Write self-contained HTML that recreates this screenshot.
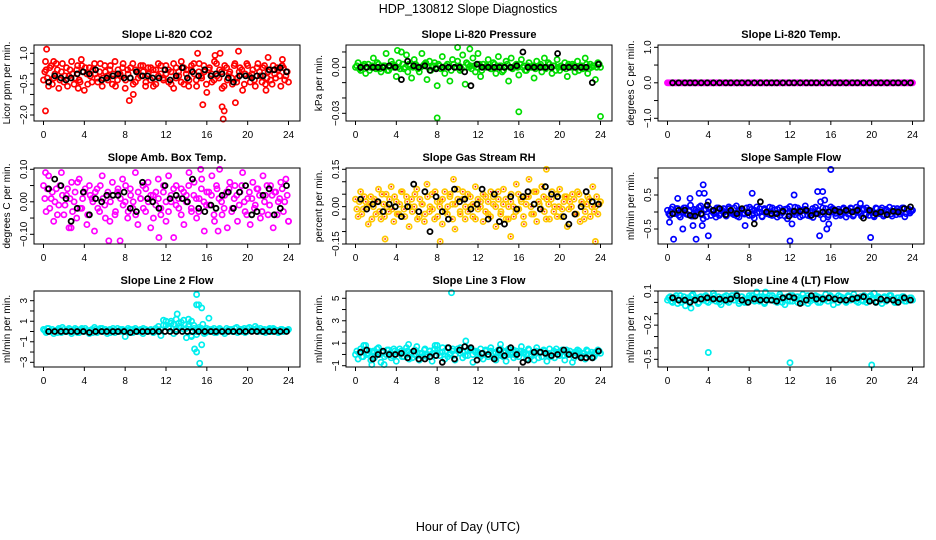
<!DOCTYPE html>
<html><head><meta charset="utf-8"><style>
html,body{margin:0;padding:0;background:#fff}
svg{display:block;font-family:"Liberation Sans",Arial,sans-serif}
</style></head><body>
<svg id="chart" width="936" height="540" viewBox="0 0 936 540" xmlns="http://www.w3.org/2000/svg">
<rect width="936" height="540" fill="#fff"/>
<text x="468" y="13" font-size="12.5" text-anchor="middle">HDP_130812  Slope Diagnostics</text>
<text x="468" y="531" font-size="12.5" text-anchor="middle">Hour of Day (UTC)</text>
</svg>
<script>
const xTicks=[0,4,8,12,16,20,24];
const blackX=[0.5,1.1,1.7,2.2,2.7,3.3,3.9,4.5,5.1,5.7,6.2,6.8,7.3,7.9,8.5,9.1,9.7,10.2,10.7,11.3,11.9,12.4,13.0,13.6,14.1,14.6,15.2,15.8,16.4,16.9,17.5,18.1,18.6,19.2,19.8,20.4,20.9,21.5,22.1,22.6,23.2,23.8];

const co2Vals=[-0.3,0.2,-0.6,0.4,-0.2,0.5,-0.7,0.1,-0.4,0.3,-0.1,0.6,-0.5,0.2,-0.3,0.4,-0.8,0.0,0.3,-0.4,0.5,-0.2,0.1,-0.6,0.4,-0.1,0.2,-0.5,0.6,-0.3,0.0,0.3,-0.7,0.2,-0.2,0.5,-0.4,0.1,-0.1,0.4,-0.6,0.3,-0.3,0.2,-0.5,0.5,0.0,-0.2,0.4,-0.4,0.1,-0.7,0.3,-0.1,0.6,-0.5,0.2,-0.3,0.4,0.0,-0.6,0.5,-0.2,0.1,-0.9,0.3,-0.4,0.6,-0.1,0.2,-0.7,0.4,-0.3,0.1,-0.5,0.5,-0.2,0.3,-0.8,0.0,0.4,-0.4,0.2,-0.6,0.5,-0.1,0.3,-0.5,0.1,-0.3,0.4,-0.2,0.2,-0.6,0.3,-0.1,-0.4];
const co2Vals2=[0.1,-0.2,0.3,-0.5,0.0,0.2,-0.3,0.5,-0.1,-0.6,0.2,0.0,-0.2,0.4,-0.4,0.1,0.3,-0.5,-0.1,0.2,0.0,-0.4,0.5,-0.2,0.1,-0.3,0.4,0.0,-0.6,0.2,-0.1,0.5,-0.3,0.0,0.3,-0.5,0.2,-0.2,0.4,0.1,-0.4,0.0,0.3,-0.6,0.2,-0.1,0.4,-0.3,0.0,0.2,-0.5,0.5,-0.2,0.1,-0.4,0.3,0.0,-0.6,0.2,0.5,-0.3,0.1,-0.1,0.4,-0.5,0.2,0.0,-0.3,0.5,-0.2,0.1,-0.6,0.3,0.0,-0.2,0.4,-0.4,0.1,0.2,-0.5,0.5,-0.1,0.0,-0.3,0.3,0.1,-0.4,0.4,-0.2,0.2,-0.5,0.0,0.3,-0.1,0.4,-0.3,0.1];
const co2Out=[[0.3,1.2],[0.2,-1.8],[0.2,0.6],[1.0,0.6],[3.7,0.7],[3.4,-0.7],[8.4,-1.3],[8.8,-1.0],[15.1,1.0],[15.6,-1.5],[17.3,1.0],[17.6,-2.2],[17.5,-1.6],[17.7,-1.8],[19.1,1.1],[18.8,-1.4],[22.0,0.8],[21.8,-0.8],[16.8,0.9],[23.4,0.7]];
const co2Black=[-0.4,-0.1,-0.2,-0.3,-0.2,0.0,0.1,0.0,0.2,-0.3,-0.2,-0.1,0.0,-0.2,-0.2,0.1,-0.1,-0.1,-0.2,-0.2,0.2,-0.3,-0.1,0.3,-0.2,0.1,-0.1,0.2,-0.1,0.0,0.0,-0.2,-0.4,-0.1,-0.1,-0.2,-0.1,-0.1,0.2,0.2,0.3,0.1];

const presVals=[0,0.003,-0.002,0.001,-0.004,0.002,0,0.006,-0.001,0.002,-0.003,0.001,0.009,-0.002,0.004,0,-0.006,0.003,0.010,-0.001,0.008,0.002,-0.007,0.005,0.001,-0.003,0.009,0.002,-0.008,0.004,0,0.003,-0.012,0.001,0.007,-0.004,0.002,-0.009,0.005,0,0.004,-0.002,0.008,-0.011,0.002,0.001,0.006,-0.003,0.009,-0.006,0.002,0,0.005,-0.001,0.003,-0.004,0.007,0.001,-0.002,0.004,-0.009,0.006,0,0.002,-0.005,0.005,0.001,-0.002,0.003,0,-0.007,0.004,0.001,-0.003,0.006,0,0.002,-0.004,0.001,0.005,-0.002,0,0.003,-0.006,0.001,0.002,-0.003,0.004,0,-0.001,0.006,-0.004,0.002,0.001,-0.008,0.003,0];
const presVals2=[0.001,-0.001,0,0.002,0,-0.002,0.001,0,0.003,-0.001,0,0.001,-0.002,0,0.002,0.001,0,-0.001,0.002,0,-0.003,0.001,0,0.002,-0.001,0,0.001,0.003,0,-0.002,0.001,0,0.002,-0.001,0,0.001,0,-0.002,0.002,0,0.001,-0.001,0,0.003,0,-0.001,0.001,0,0.002,-0.002,0,0.001,0,-0.001,0.002,0,0.001,-0.003,0,0.002,0,-0.001,0.001,0,0.002,0,-0.002,0.001,0,0.001,-0.001,0,0.002,0,-0.001,0.003,0,0.001,-0.002,0,0.001,0,-0.001,0.002,0,0.001,0,-0.002,0.001,0,0.002,-0.001,0,0.001,0,0.002];
const presOut=[[8.0,-0.033],[16.0,-0.029],[24.0,-0.032],[4.1,0.011],[11.2,0.012],[10.0,0.013]];
const presBlack=[0,0,0,0,0,0.001,0,-0.008,0.004,0.001,0,0.001,-0.002,-0.001,0,0,0,0,-0.003,-0.012,0.002,0,0,0,0,0,0,0.001,0.010,0,0,0,0,0,0.009,0,0,0,0,0,-0.010,0.002];

const tempVals=[0,0,0,0,0,0,0,0,0,0,0,0,0,0,0,0,0,0,0,0,0,0,0,0,0,0,0,0,0,0,0,0,0,0,0,0,0,0,0,0,0,0,0,0,0,0,0,0,0,0,0,0,0,0,0,0,0,0,0,0,0,0,0,0,0,0,0,0,0,0,0,0,0,0,0,0,0,0,0,0,0,0,0,0,0,0,0,0,0,0,0,0,0,0,0,0,0];
const tempVals2=tempVals;
const tempOut=[];
const tempBlack=[0,0,0,0,0,0,0,0,0,0,0,0,0,0,0,0,0,0,0,0,0,0,0,0,0,0,0,0,0,0,0,0,0,0,0,0,0,0,0,0,0,0];

const ambVals=[0.05,-0.03,0.08,0.01,-0.06,0.04,-0.01,0.09,-0.04,0.02,-0.08,0.06,0.00,-0.05,0.07,-0.02,0.03,-0.07,0.05,0.01,-0.09,0.04,-0.03,0.08,-0.01,0.02,-0.06,0.06,-0.04,0.03,-0.12,0.07,0.00,-0.05,0.04,-0.02,0.09,-0.07,0.01,0.05,-0.03,0.06,-0.08,0.02,-0.01,0.07,-0.04,0.03,-0.06,0.08,0.00,-0.11,0.05,-0.02,0.04,-0.07,0.02,0.09,-0.03,0.06,-0.05,0.01,0.07,-0.09,0.03,-0.01,0.08,-0.06,0.04,0.10,-0.04,0.02,-0.08,0.06,-0.02,0.05,-0.06,0.03,0.09,-0.03,0.01,-0.07,0.06,-0.01,0.04,-0.05,0.08,0.02,-0.04,0.05,-0.08,0.03,0.00,0.06,-0.03,0.07,-0.06];
const ambVals2=[0.01,0.04,-0.02,0.03,0.00,-0.04,0.05,0.02,-0.01,0.04,0.01,-0.03,0.03,0.06,-0.02,0.01,0.04,-0.04,0.02,0.00,0.03,-0.02,0.05,0.01,-0.05,0.03,0.00,0.02,-0.03,0.04,0.01,-0.01,0.05,-0.03,0.02,0.00,-0.04,0.03,0.01,-0.02,0.04,0.00,0.02,-0.05,0.03,0.01,-0.02,0.05,0.00,-0.03,0.02,0.04,-0.01,0.01,-0.04,0.03,0.00,0.05,-0.02,0.02,0.01,-0.03,0.04,0.00,-0.01,0.03,0.02,-0.04,0.05,0.01,0.00,-0.02,0.03,0.04,-0.03,0.01,0.02,-0.01,0.05,0.00,-0.04,0.03,0.01,-0.02,0.04,0.02,-0.03,0.00,0.05,-0.01,0.02,0.03,-0.04,0.01,0.04,0.00,0.02];
const ambOut=[[6.4,-0.12],[2.7,-0.08],[11.3,-0.11],[17.1,-0.09],[15.4,0.10],[0.2,0.09],[24.0,-0.06]];
const ambBlack=[0.04,0.07,0.05,0.01,-0.06,-0.02,0.03,-0.04,0.01,0.00,0.02,0.02,0.02,0.03,-0.02,-0.03,0.06,0.01,0.00,-0.02,0.05,0.01,0.02,0.01,0.00,0.07,-0.02,-0.03,-0.01,-0.02,0.02,0.03,-0.02,0.03,0.05,-0.04,-0.03,0.02,0.04,-0.04,-0.02,0.05];

const rhVals=[0.03,-0.04,0.06,-0.01,0.02,-0.07,0.04,0.00,-0.03,0.07,-0.05,0.01,0.05,-0.02,0.08,-0.06,0.02,-0.03,0.06,-0.01,0.04,-0.08,0.03,0.00,0.07,-0.04,0.01,-0.06,0.09,-0.02,0.05,-0.05,0.02,0.00,-0.07,0.06,-0.03,0.04,0.01,-0.09,0.07,-0.02,0.03,-0.05,0.05,0.00,-0.04,0.08,-0.01,0.02,-0.06,0.04,-0.03,0.06,0.01,-0.08,0.03,-0.02,0.07,-0.05,0.00,0.05,-0.04,0.09,-0.01,0.02,-0.07,0.04,0.11,-0.03,0.06,-0.06,0.01,0.08,-0.02,0.03,-0.05,0.06,0.00,-0.04,0.07,-0.01,0.04,-0.08,0.02,0.05,-0.03,0.06,-0.06,0.01,-0.02,0.04,-0.04,0.08,0.00,-0.03,0.02];
const rhVals2=[-0.01,0.02,-0.03,0.04,0.00,0.01,-0.05,0.03,0.02,-0.02,0.05,-0.04,0.00,0.03,-0.01,0.04,-0.03,0.01,0.06,-0.04,0.02,0.00,-0.02,0.05,-0.05,0.03,0.01,-0.03,0.04,0.00,-0.01,0.06,-0.04,0.02,0.03,-0.02,0.00,0.05,-0.05,0.01,0.03,-0.03,0.06,0.00,-0.02,0.04,0.01,-0.05,0.03,0.00,0.05,-0.02,0.02,-0.04,0.04,0.00,0.06,-0.03,0.01,0.03,-0.05,0.02,0.00,-0.02,0.05,0.03,-0.04,0.01,0.04,0.00,-0.03,0.06,0.02,-0.01,0.04,-0.05,0.01,0.03,-0.02,0.05,0.00,-0.04,0.02,0.04,-0.01,0.00,0.03,-0.03,0.05,0.02,-0.05,0.01,0.03,0.00,-0.02,0.04,0.01];
const rhOut=[[2.9,-0.13],[8.3,-0.14],[23.5,-0.14],[18.7,0.15],[9.6,0.11],[15.2,-0.12]];
const rhBlack=[0.03,-0.01,0.01,0.02,-0.02,0.01,0.00,-0.04,0.00,0.09,-0.02,0.06,-0.10,0.04,-0.02,-0.05,0.07,0.02,0.03,-0.01,0.01,0.07,-0.05,0.05,-0.06,-0.07,0.04,-0.01,0.04,0.06,0.01,-0.01,0.08,0.05,0.04,-0.04,-0.07,-0.03,0.00,0.06,0.02,0.01];

const sfVals=[0.05,-0.10,0.15,-0.05,0.10,-0.15,0.00,0.12,-0.08,0.20,-0.12,0.05,-0.02,0.18,-0.20,0.08,0.30,-0.10,0.03,-0.15,0.12,-0.05,0.10,-0.12,0.15,0.00,-0.08,0.18,-0.15,0.05,-0.03,0.12,-0.10,0.08,-0.18,0.15,0.00,-0.12,0.10,-0.05,0.14,-0.10,0.06,-0.15,0.12,-0.02,0.08,-0.20,0.16,0.00,-0.08,0.12,-0.14,0.05,0.18,-0.10,0.02,-0.16,0.14,-0.05,0.30,-0.20,0.10,-0.08,0.15,0.00,-0.12,0.08,-0.05,0.12,-0.15,0.04,0.10,-0.08,0.14,-0.02,-0.12,0.08,0.12,-0.10,0.02,-0.14,0.10,-0.05,0.12,-0.08,0.05,0.14,-0.12,0.00,0.10,-0.06,0.12,-0.14,0.08,-0.03,0.05];
const sfVals2=[-0.05,0.08,-0.02,0.10,-0.10,0.04,0.12,-0.06,0.02,-0.12,0.08,0.00,0.14,-0.08,0.05,-0.14,0.10,0.02,-0.05,0.12,-0.10,0.06,0.00,-0.08,0.10,-0.04,0.12,-0.12,0.04,0.08,-0.06,0.00,0.14,-0.10,0.05,-0.02,0.10,-0.14,0.06,0.02,-0.08,0.12,-0.04,0.08,-0.10,0.04,-0.12,0.10,0.00,-0.06,0.14,-0.02,0.06,-0.10,0.08,0.02,-0.12,0.10,-0.04,0.05,-0.08,0.12,0.00,-0.14,0.06,0.10,-0.04,0.02,-0.10,0.08,0.04,-0.06,0.12,-0.12,0.02,0.08,-0.04,0.10,-0.08,0.05,0.00,-0.10,0.12,-0.02,0.06,-0.12,0.08,0.02,-0.06,0.10,-0.08,0.04,0.00,0.12,-0.05,0.08,0.02];
const sfOut=[[0.2,-0.3],[0.6,-0.8],[1.0,0.4],[1.5,-0.5],[2.2,0.4],[2.5,-0.4],[2.8,-0.8],[3.1,0.55],[3.5,0.8],[3.6,0.55],[3.4,-0.4],[4.0,-0.7],[7.6,-0.4],[8.3,0.55],[12.0,-0.85],[12.4,0.5],[12.2,-0.35],[14.7,0.6],[15.2,0.6],[14.9,-0.7],[15.4,0.35],[15.6,-0.5],[16.0,1.25],[15.8,-0.35],[19.9,-0.75],[18.9,0.25]];
const sfBlack=[-0.05,0.05,0.05,-0.1,-0.12,-0.05,0.2,0.05,0.1,-0.08,0.05,-0.05,0.1,-0.02,-0.35,0.3,0.0,-0.05,-0.05,0.02,-0.12,0.02,0.02,0.05,-0.1,-0.05,0.0,0.0,0.05,0.0,0.05,0.0,0.05,-0.18,0.05,-0.05,0.0,-0.08,0.02,0.0,0.1,0.15];

const l2Vals=[0.2,-0.1,0.3,0.0,-0.2,0.1,0.3,-0.1,0.2,0.0,0.3,-0.2,0.1,0.2,-0.1,0.3,0.0,0.1,-0.2,0.2,0.4,-0.1,0.1,0.3,0.0,-0.2,0.2,0.1,-0.1,0.3,0.0,0.2,-0.5,0.1,0.2,-0.1,0.3,0.0,0.1,-0.2,0.2,0.0,0.1,-0.1,0.3,0.0,-0.4,0.6,1.0,0.3,0.8,-0.2,1.2,0.5,0.9,0.2,-0.6,0.7,1.0,0.3,-0.3,0.4,0.1,-0.2,0.3,0.0,0.2,-0.1,0.1,0.3,0.0,-0.2,0.1,0.2,0.0,0.3,-0.1,0.2,0.0,-0.1,0.3,0.1,0.2,0.5,0.0,0.3,0.1,-0.1,0.2,0.0,0.3,0.1,-0.1,0.2,0.0,0.1,0.2];
const l2Vals2=[0.1,0.3,0.0,0.2,0.1,-0.1,0.2,0.4,0.0,0.1,0.2,0.0,0.3,-0.1,0.1,0.2,0.3,0.0,0.1,-0.1,0.2,0.1,0.3,0.0,0.2,0.1,-0.1,0.3,0.1,0.0,0.2,0.1,0.0,0.3,-0.1,0.2,0.1,0.0,0.2,0.3,0.0,0.1,0.2,-0.1,0.1,0.5,0.2,1.1,0.6,0.4,1.0,0.7,0.2,0.8,0.4,1.1,0.3,0.5,-0.4,0.6,0.0,0.2,0.3,0.1,0.0,0.2,0.1,0.3,-0.1,0.2,0.1,0.0,0.3,0.1,0.2,0.0,0.4,0.1,0.2,0.3,0.0,0.4,0.1,0.2,0.3,0.1,0.0,0.2,0.1,0.3,0.0,0.2,0.1,0.0,0.2,0.1,0.1];
const l2Out=[[13.1,1.7],[15.0,3.6],[15.0,2.6],[15.2,2.6],[15.5,2.3],[14.8,-1.7],[15.0,-2.0],[15.5,-1.3],[15.3,-3.1],[15.6,0.7],[16.2,1.3],[14.5,-0.5],[14.2,1.2],[15.9,-0.1]];
const l2Black=[0,0,0,0,0,0,0,-0.1,0,0,0,0,0,0,-0.1,0,0,0,0,0,0,0,0,0,0,0,0,0,0,0,0,0,0,0,0,0,0,0,0,0,0,0];

const l3Vals=[0.0,-0.4,0.5,-0.2,0.8,0.1,-0.5,0.3,-0.1,0.6,-0.7,0.2,0.0,0.4,-0.3,0.5,-0.6,0.1,0.3,-0.2,0.6,-0.4,0.2,0.0,0.7,-0.5,0.1,0.4,-0.2,0.3,-0.6,0.5,0.8,-0.1,0.2,-0.4,0.6,0.0,0.3,-0.5,0.5,0.1,-0.3,0.7,-0.1,0.4,-0.7,0.2,0.0,0.5,-0.4,0.3,-0.2,0.6,0.1,-0.5,0.4,-0.1,0.2,-0.6,0.5,0.0,-0.3,0.3,-0.2,0.7,0.1,-0.4,0.4,0.0,-0.5,0.6,0.2,-0.2,0.3,-0.6,0.5,0.1,-0.3,0.2,-0.1,0.4,-0.5,0.0,0.3,-0.7,0.2,0.4,-0.2,0.1,-0.4,0.3,0.0,-0.3,0.2,0.4,0.1];
const l3Vals2=[0.3,0.1,-0.2,0.4,0.0,0.3,0.2,-0.3,0.5,0.0,0.2,-0.2,0.4,0.1,-0.1,0.3,0.2,0.5,-0.2,0.1,0.3,0.0,-0.3,0.4,0.2,0.1,-0.2,0.5,0.0,0.3,0.1,-0.1,0.4,0.2,0.6,0.3,-0.2,0.1,0.5,0.0,0.3,0.6,0.2,-0.1,0.4,0.5,0.0,0.3,0.2,-0.2,0.1,0.4,0.0,0.3,-0.3,0.2,0.1,0.5,-0.2,0.3,0.0,0.2,0.4,-0.1,0.1,0.3,0.2,0.0,0.5,-0.2,0.1,0.3,-0.3,0.2,0.4,0.0,0.1,-0.2,0.3,0.5,0.0,0.2,-0.1,0.4,0.1,0.0,-0.3,0.2,0.3,-0.1,0.1,0.4,0.0,0.2,-0.2,0.1,0.3];
const l3Out=[[9.4,5.5],[10.8,1.2],[0.8,0.8],[1.6,-0.9],[2.8,-0.9],[14.2,0.9],[7.8,0.8],[5.2,0.9]];
const l3Black=[0.2,0.4,-0.4,0.0,0.3,0.0,0.0,0.1,-0.3,0.3,-0.4,-0.4,-0.2,-0.1,-0.7,0.6,-0.4,0.4,0.7,0.6,-0.5,0.1,0.0,-0.4,0.4,-0.1,0.6,0.0,-0.7,-0.5,0.2,0.2,0.1,-0.1,0.0,0.4,0.0,-0.1,-0.3,-0.3,-0.3,0.3];

const l4Vals=[0.02,0.05,0.00,0.04,-0.01,0.06,0.02,-0.03,0.04,0.01,0.07,0.03,-0.01,0.05,0.02,0.06,0.00,0.04,0.08,0.01,0.05,-0.02,0.03,0.06,0.00,0.04,0.02,0.07,-0.01,0.05,0.03,0.00,0.06,0.02,0.04,0.09,0.01,0.05,-0.01,0.03,0.06,0.02,0.04,0.00,0.07,0.03,-0.02,0.05,0.01,0.06,0.03,0.00,0.04,0.07,0.02,-0.01,0.05,0.03,0.06,0.00,0.04,0.02,0.07,0.01,0.05,-0.02,0.03,0.06,0.02,0.04,0.00,0.05,0.03,0.07,0.01,0.04,0.02,0.06,0.00,0.05,0.03,0.08,0.01,0.04,-0.01,0.05,0.02,0.06,0.03,0.00,0.04,0.02,0.05,0.01,0.03,0.04,0.02];
const l4Vals2=[0.04,0.01,0.03,0.06,0.02,0.00,0.05,0.03,0.01,0.06,0.02,0.04,0.00,0.03,0.05,0.01,0.04,0.02,0.06,0.03,0.00,0.04,0.05,0.01,0.03,0.06,0.02,0.04,0.01,0.05,0.00,0.03,0.04,0.06,0.01,0.02,0.05,0.03,0.00,0.04,0.02,0.06,0.01,0.03,0.05,0.00,0.04,0.02,0.06,0.01,0.03,0.05,0.02,0.00,0.04,0.06,0.01,0.03,0.02,0.05,0.00,0.04,0.03,0.01,0.06,0.02,0.04,0.00,0.05,0.03,0.01,0.06,0.02,0.04,0.03,0.00,0.05,0.01,0.04,0.02,0.06,0.03,0.00,0.05,0.02,0.04,0.01,0.03,0.06,0.02,0.00,0.04,0.03,0.05,0.01,0.02,0.04];
const l4Out=[[4.0,-0.44],[12.0,-0.53],[20.0,-0.55],[2.3,-0.05],[9.6,0.09]];
const l4Black=[0.04,0.02,0.02,0.00,0.02,0.03,0.04,0.03,0.03,0.02,0.03,0.06,0.02,0.00,0.03,0.02,0.02,0.02,0.01,0.04,0.05,0.04,-0.01,0.02,0.06,0.03,0.03,0.04,0.03,0.02,0.02,0.03,0.04,0.05,0.01,0.00,0.03,0.02,0.02,0.00,0.04,0.02];

const NS='http://www.w3.org/2000/svg';
const svg=document.getElementById('chart');
function mk(tag,attrs,parent){const e=document.createElementNS(NS,tag);for(const k in attrs)e.setAttribute(k,attrs[k]);(parent||svg).appendChild(e);return e;}

const colLeft=[34,346,658], rowTop=[45,168,291], boxW=266, boxH=76;
const panels=[
 {key:'co2',title:'Slope Li-820 CO2',ylab:'Licor ppm per min.',col:0,row:0,a:[1,53.3],b:[-2,115],ticks:[1,0.5,0,-0.5,-1,-1.5,-2],labs:[[1,'1.0'],[-0.5,'-0.5'],[-2,'-2.0']],vals:co2Vals,vals2:co2Vals2,out:co2Out,blk:co2Black,color:'#ff0000'},
 {key:'pressure',title:'Slope Li-820 Pressure',ylab:'kPa per min.',col:1,row:0,a:[0,67.3],b:[-0.03,113.3],ticks:[0.01,0,-0.01,-0.02,-0.03],labs:[[0,'0.00'],[-0.03,'-0.03']],vals:presVals,vals2:presVals2,out:presOut,blk:presBlack,color:'#00dd00'},
 {key:'li820-temp',title:'Slope Li-820 Temp.',ylab:'degrees C per min.',col:2,row:0,a:[1,47.3],b:[-1,118.3],ticks:[1,0.5,0,-0.5,-1],labs:[[1,'1.0'],[0,'0.0'],[-1,'-1.0']],vals:tempVals,vals2:tempVals2,out:tempOut,blk:tempBlack,color:'#ff00ff'},
 {key:'amb-box-temp',title:'Slope Amb. Box Temp.',ylab:'degrees C per min.',col:0,row:1,a:[0.1,169.3],b:[-0.1,234.3],ticks:[0.1,0.05,0,-0.05,-0.1],labs:[[0.1,'0.10'],[0,'0.00'],[-0.1,'-0.10']],vals:ambVals,vals2:ambVals2,out:ambOut,blk:ambBlack,color:'#ff00ff'},
 {key:'gas-stream-rh',title:'Slope Gas Stream RH',ylab:'percent per min.',col:1,row:1,a:[0.15,169.3],b:[-0.15,244],ticks:[0.15,0.1,0.05,0,-0.05,-0.1,-0.15],labs:[[0.15,'0.15'],[0,'0.00'],[-0.15,'-0.15']],vals:rhVals,vals2:rhVals2,out:rhOut,blk:rhBlack,color:'#ffc800',dot:'#ff2000'},
 {key:'sample-flow',title:'Slope Sample Flow',ylab:'ml/min per min.',col:2,row:1,a:[0.5,195],b:[-0.5,229],ticks:[1,0.5,0,-0.5],labs:[[0.5,'0.5'],[-0.5,'-0.5']],vals:sfVals,vals2:sfVals2,out:sfOut,blk:sfBlack,color:'#0000ff'},
 {key:'line2-flow',title:'Slope Line 2 Flow',ylab:'ml/min per min.',col:0,row:2,a:[3,300.7],b:[-3,362.3],ticks:[3,2,1,0,-1,-2,-3],labs:[[3,'3'],[1,'1'],[-1,'-1'],[-3,'-3']],vals:l2Vals,vals2:l2Vals2,out:l2Out,blk:l2Black,color:'#00eeee'},
 {key:'line3-flow',title:'Slope Line 3 Flow',ylab:'ml/min per min.',col:1,row:2,a:[5,298.3],b:[-1,365.7],ticks:[5,4,3,2,1,0,-1],labs:[[5,'5'],[3,'3'],[1,'1'],[-1,'-1']],vals:l3Vals,vals2:l3Vals2,out:l3Out,blk:l3Black,color:'#00eeee'},
 {key:'line4-flow',title:'Slope Line 4 (LT) Flow',ylab:'ml/min per min.',col:2,row:2,a:[0.1,291],b:[-0.5,359.3],ticks:[0.1,0,-0.1,-0.2,-0.3,-0.4,-0.5],labs:[[0.1,'0.1'],[-0.2,'-0.2'],[-0.5,'-0.5']],vals:l4Vals,vals2:l4Vals2,out:l4Out,blk:l4Black,color:'#00eeee'}
];

panels.forEach(p=>{
  const L=colLeft[p.col], T=rowTop[p.row], R=L+boxW, B=T+boxH;
  const xs=h=>L+9.5+h*(boxW-21)/24;
  const ys=v=>p.a[1]+(v-p.a[0])*(p.b[1]-p.a[1])/(p.b[0]-p.a[0]);
  const g=mk('g',{});
  
  
  const t=mk('text',{x:(L+R)/2,y:T-7,'font-size':11,'font-weight':'bold','text-anchor':'middle'},g);
  t.textContent=p.title;
  
  
  const yl=mk('text',{x:0,y:0,'font-size':10,'text-anchor':'middle',transform:`translate(${L-24},${(T+B)/2}) rotate(-90)`},g);
  yl.textContent=p.ylab;
  
  
  const pts=mk('g',{fill:'none'},g);
  
  
  const n=p.vals.length, n2=p.vals2.length;
  const all=p.vals.map((v,i)=>[i*24/(n-1),v])
    .concat(p.vals2.map((v,i)=>[(i+0.5)*24/(n2),v]))
    .concat(p.out);
  all.forEach(([h,v])=>{
    const c=mk('circle',{cx:xs(h).toFixed(1),cy:ys(v).toFixed(1),r:2.6,stroke:p.color,'stroke-width':1.7,fill:'none'},pts);
    
    
    if(p.dot){const d=mk('circle',{cx:xs(h).toFixed(1),cy:ys(v).toFixed(1),r:0.9,fill:p.dot},pts);
      
      }
  });
  const bk=mk('g',{fill:'none'},g);
  
  
  const m=Math.min(blackX.length,p.blk.length);
  for(let i=0;i<m;i++){
    const c=mk('circle',{cx:xs(blackX[i]).toFixed(1),cy:ys(p.blk[i]).toFixed(1),r:2.5,stroke:'#000','stroke-width':1.8,fill:'none'},bk);
    
    
  }
  const bx=mk('rect',{x:L,y:T,width:boxW,height:boxH,fill:'none',stroke:'#000','stroke-width':1},g);
  
  
  const xa=mk('g',{},g);
  
  
  xTicks.forEach(h=>{
    mk('line',{x1:xs(h),x2:xs(h),y1:B,y2:B+4,stroke:'#000'},xa);
    const tl=mk('text',{x:xs(h),y:B+17,'font-size':10,'text-anchor':'middle'},xa);
    tl.textContent=h;
    
    
  });
  const ya=mk('g',{},g);
  
  
  p.ticks.forEach(v=>mk('line',{x1:L-4,x2:L,y1:ys(v),y2:ys(v),stroke:'#000'},ya));
  p.labs.forEach(([v,s])=>{
    const tl=mk('text',{x:0,y:0,'font-size':10,'text-anchor':'middle',transform:`translate(${L-7},${ys(v)}) rotate(-90)`},ya);
    tl.textContent=s.replace('-','\u2212');
    
    
  });
});
</script>
</body></html>
